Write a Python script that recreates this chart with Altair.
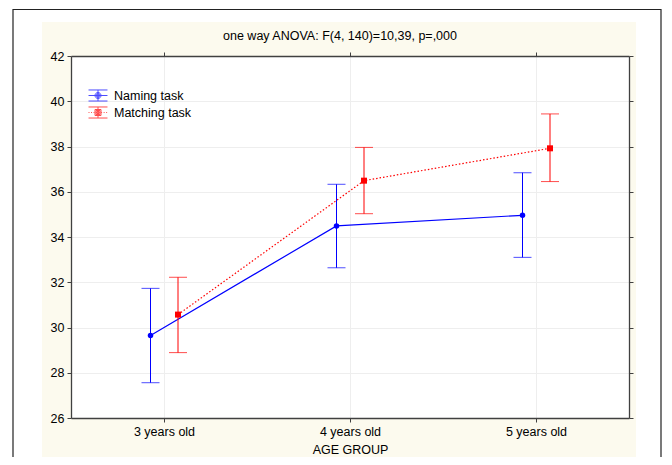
import altair as alt
import pandas as pd

ages = ["3 years old", "4 years old", "5 years old"]
tasks = ["Naming task", "Matching task"]

naming_mean = [29.65, 34.49, 34.96]
naming_lo = [27.56, 32.64, 33.10]
naming_hi = [31.73, 36.33, 36.84]

matching_mean = [30.57, 36.49, 37.92]
matching_lo = [28.89, 35.03, 36.45]
matching_hi = [32.22, 37.96, 39.44]

y_ticks = [26, 28, 30, 32, 34, 36, 38, 40, 42]
title_text = "one way ANOVA: F(4, 140)=10,39, p=,000"

rows = []
for t, ms, los, his in [
    (tasks[0], naming_mean, naming_lo, naming_hi),
    (tasks[1], matching_mean, matching_lo, matching_hi),
]:
    for a, m, lo, hi in zip(ages, ms, los, his):
        rows.append({"age": a, "task": t, "mean": m, "lo": lo, "hi": hi})
df = pd.DataFrame(rows)

FONT = "Liberation Sans"
FS = 12.5
BLUE = "#0000ff"
RED = "#ff0000"
CREAM = "#fcfaee"
FRAME = "#404040"
GRID = "#eeeeee"

xscale = alt.Scale(type="point", domain=ages, padding=0.5)
yscale = alt.Scale(domain=[26, 42], nice=False, zero=False)


def X(axis=None):
    return alt.X("age:N", scale=xscale, axis=axis, sort=ages)


def Y(field, axis=None):
    return alt.Y(f"{field}:Q", scale=yscale, axis=axis)


common_axis = dict(
    domainColor=FRAME, domainWidth=1.3, tickColor=FRAME, tickSize=4,
    labelFont=FONT, labelFontSize=FS, labelColor="black",
)
axis_bottom = alt.Axis(orient="bottom", title="AGE GROUP", grid=True, gridColor=GRID,
                       labelAngle=0, labelPadding=3, titleFont=FONT, titleFontSize=FS,
                       titleFontWeight="normal", titleColor="black", titlePadding=6,
                       **common_axis)
axis_top = alt.Axis(orient="top", title=None, grid=False, labels=False, **common_axis)
axis_left = alt.Axis(orient="left", title=None, grid=True, gridColor=GRID, values=y_ticks,
                     labelPadding=3, **common_axis)
axis_right = alt.Axis(orient="right", title=None, grid=False, labels=False, values=y_ticks,
                      **common_axis)

base = alt.Chart(df)


def series(task, color, off, shape, size, x_axis, y_axis, dash=None):
    sub = base.transform_filter(alt.datum.task == task)
    rule = sub.mark_rule(color=color, strokeWidth=1, xOffset=off).encode(
        x=X(), y=Y("lo"), y2="hi:Q")
    cap_lo = sub.mark_tick(color=color, size=18, thickness=1, xOffset=off).encode(
        x=X(), y=Y("lo"))
    cap_hi = sub.mark_tick(color=color, size=18, thickness=1, xOffset=off).encode(
        x=X(), y=Y("hi"))
    line_kw = dict(color=color, strokeWidth=1.2, xOffset=off)
    if dash:
        line_kw["strokeDash"] = dash
    line = sub.mark_line(**line_kw).encode(x=X(x_axis), y=Y("mean", y_axis))
    pts = sub.mark_point(filled=True, opacity=1, shape=shape, size=size, color=color,
                         xOffset=off).encode(x=X(), y=Y("mean"))
    return [rule, cap_lo, cap_hi, line, pts]


# legend symbols: small error bar with marker
def circle(r):
    return f"M{-r},0A{r},{r},0,1,0,{r},0A{r},{r},0,1,0,{-r},0"


def square(h):
    return f"M{-h},{-h}H{h}V{h}H{-h}Z"


W = 1.58
C = 0.92
bar = f"M{-W},{-C}H{W}M{-W},{C}H{W}M0,{-C}V{C}"
path_naming = bar + f"M{-W},0H{W}" + circle(0.5) + circle(0.33) + circle(0.17)
dots = ""
xx = -W
while xx < W - 0.05:
    dots += f"M{xx:.2f},0H{min(xx + 0.16, W):.2f}"
    xx += 0.42
path_matching = bar + dots + square(0.5) + square(0.33) + square(0.17) + "M-0.06,0H0.06"

leg = alt.Legend(orient="none", legendX=20.5, legendY=33, title=None, symbolSize=144,
                 symbolStrokeWidth=1, labelOffset=9.5, rowPadding=0, labelFont=FONT,
                 labelFontSize=FS, labelColor="black")
legend_layer = base.transform_calculate(off="1000").mark_point(
    clip=True, filled=False, strokeWidth=1).encode(
    x=X(), y=alt.Y("off:Q", scale=yscale, axis=None),
    color=alt.Color("task:N", scale=alt.Scale(domain=tasks, range=[BLUE, RED]), legend=leg),
    shape=alt.Shape("task:N", scale=alt.Scale(domain=tasks, range=[path_naming, path_matching]),
                    legend=leg),
)

one = alt.Chart(pd.DataFrame({"k": [0]}))
strip_left = one.mark_rect(color="white").encode(
    x=alt.value(-63), x2=alt.value(-29), y=alt.value(-48), y2=alt.value(430))
strip_top = one.mark_rect(color="white").encode(
    x=alt.value(-63), x2=alt.value(593), y=alt.value(-48), y2=alt.value(-34))
strip_right = one.mark_rect(color="white").encode(
    x=alt.value(565), x2=alt.value(593), y=alt.value(-48), y2=alt.value(430))
border = one.mark_rect(fill="transparent", stroke="#222222", strokeWidth=1.2).encode(
    x=alt.value(-58), x2=alt.value(590), y=alt.value(-46.5), y2=alt.value(440))

layers = [strip_left, strip_top, strip_right, border]
layers += series(tasks[0], BLUE, -13.5, "circle", 30, axis_bottom, axis_left)
layers += series(tasks[1], RED, 14, "square", 36, axis_top, axis_right, dash=[1.5, 2])
layers.append(legend_layer)

chart = alt.layer(*layers).resolve_axis(x="independent", y="independent").properties(
    width=558, height=362,
    title=alt.Title(title_text, font=FONT, fontSize=FS, fontWeight="normal", color="black",
                    frame="group", anchor="middle", offset=-34, dx=-10),
    background=CREAM,
    padding={"left": 63, "top": 48, "right": 35, "bottom": 39},
    autosize="none",
).configure_view(fill="white", stroke="transparent")

chart.save("out.html", embed_options={"renderer": "svg", "actions": False})
